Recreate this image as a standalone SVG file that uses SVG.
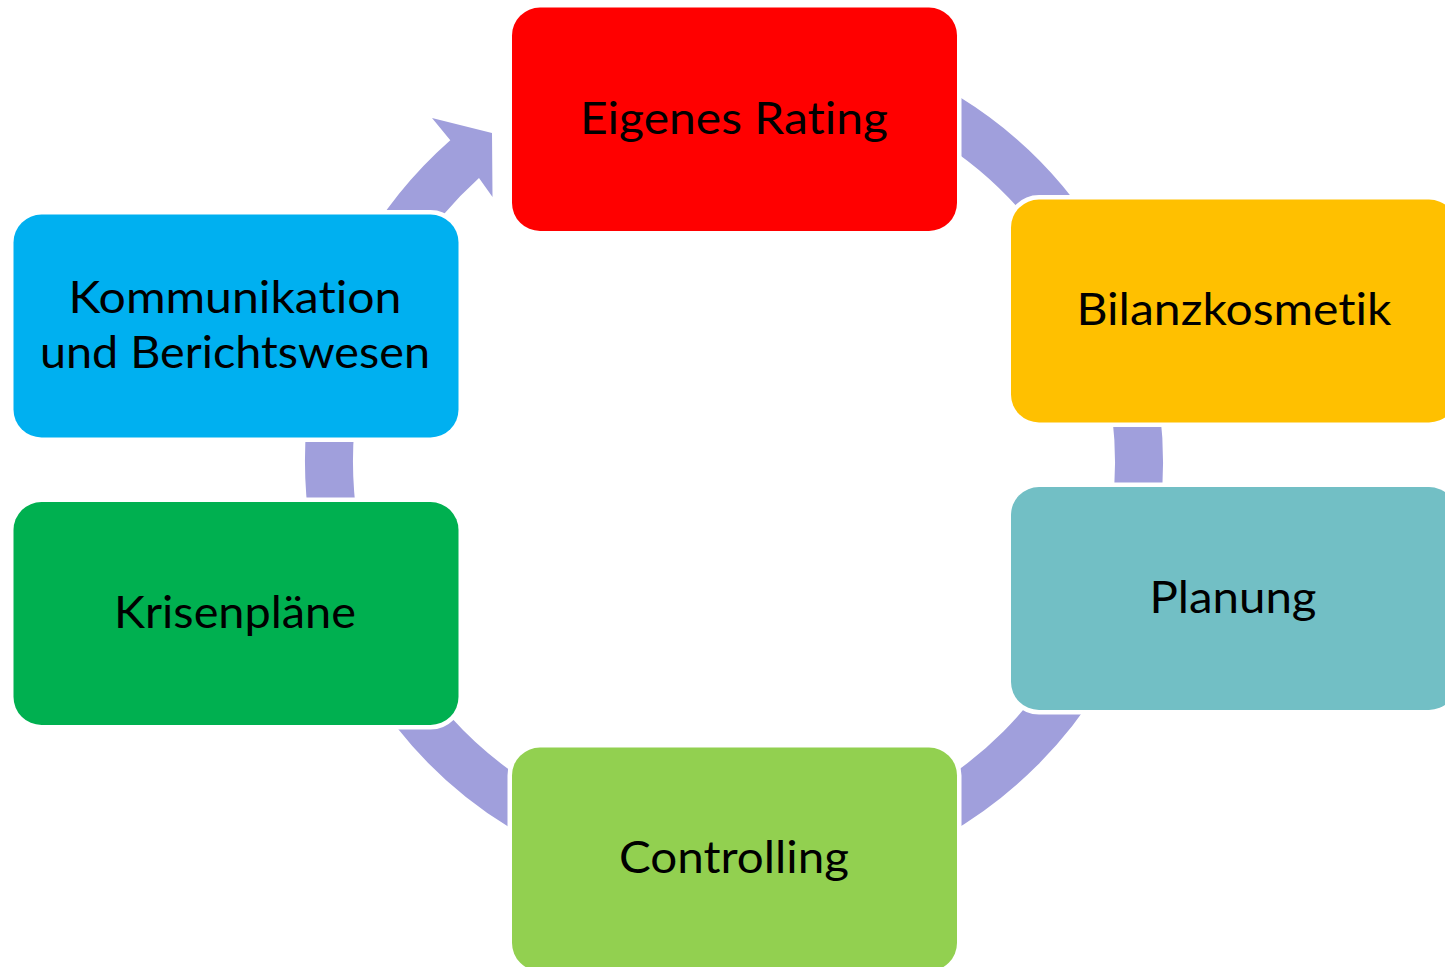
<svg xmlns="http://www.w3.org/2000/svg" width="1445" height="967" viewBox="0 0 1445 967">
  <style>
    .node { stroke: #FFFFFF; stroke-width: 9; paint-order: stroke fill; }
    .label { font-family: Lato, "Open Sans", "Liberation Sans", sans-serif; font-size: 44px; fill: #000000; text-anchor: middle; font-variant-ligatures: none; font-feature-settings: "liga" 0, "clig" 0; }
    .ring { fill: none; stroke: #A09FDC; stroke-width: 48; }
    .head { fill: #A09FDC; }
  </style>
  <rect width="1445" height="967" fill="#FFFFFF"/>
  <g id="connectors">
    <path class="ring" d="M 595.5 81.4 A 405 405 0 1 1 353.4 323.5"/>
    <path class="head" d="M 330.9 315.3 A 429 429 0 0 1 450.3 140.2 L 432 118 L 492 133 L 492.5 197 L 479 178 A 381 381 0 0 0 376 331.7 Z"/>
  </g>
  <g id="node-eigenes-rating">
    <rect class="node" x="512" y="7.5" width="445" height="223.5" rx="28" fill="#FF0000"/>
    <text class="label" x="734" y="133.5" textLength="308" lengthAdjust="spacingAndGlyphs">Eigenes Rating</text>
  </g>
  <g id="node-bilanzkosmetik">
    <rect class="node" x="1011" y="199.5" width="446" height="223" rx="28" fill="#FFC000"/>
    <text class="label" x="1234" y="325" textLength="315" lengthAdjust="spacingAndGlyphs">Bilanzkosmetik</text>
  </g>
  <g id="node-planung">
    <rect class="node" x="1011" y="487" width="446" height="223" rx="28" fill="#72BFC5"/>
    <text class="label" x="1233" y="613" textLength="167" lengthAdjust="spacingAndGlyphs">Planung</text>
  </g>
  <g id="node-controlling">
    <rect class="node" x="512" y="747.5" width="445" height="223.5" rx="28" fill="#92D050"/>
    <text class="label" x="734" y="873" textLength="230" lengthAdjust="spacingAndGlyphs">Controlling</text>
  </g>
  <g id="node-krisenplaene">
    <rect class="node" x="13.5" y="502" width="445" height="223" rx="28" fill="#00B050"/>
    <text class="label" x="235" y="628" textLength="242" lengthAdjust="spacingAndGlyphs">Krisenpläne</text>
  </g>
  <g id="node-kommunikation">
    <rect class="node" x="13.5" y="214.5" width="445" height="223" rx="28" fill="#00B0F0"/>
    <text class="label" x="235" y="312.5" textLength="333" lengthAdjust="spacingAndGlyphs">Kommunikation</text>
    <text class="label" x="235" y="367.5" textLength="390" lengthAdjust="spacingAndGlyphs">und Berichtswesen</text>
  </g>
</svg>
